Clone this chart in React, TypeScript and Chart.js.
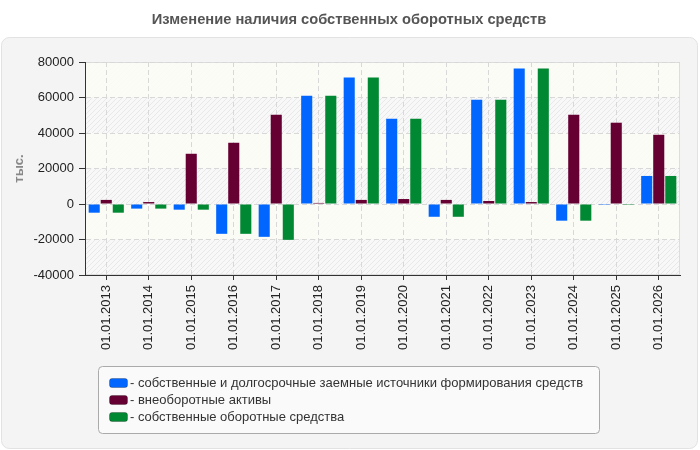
import React, { useEffect, useRef } from 'react';
import { Chart, registerables } from 'chart.js';

Chart.register(...registerables);

const FONT = '"Liberation Sans", Arial, sans-serif';

const titleText = 'Изменение наличия собственных оборотных средств';
const yAxisTitle = 'тыс.';

const categories = [
  '01.01.2013', '01.01.2014', '01.01.2015', '01.01.2016', '01.01.2017',
  '01.01.2018', '01.01.2019', '01.01.2020', '01.01.2021', '01.01.2022',
  '01.01.2023', '01.01.2024', '01.01.2025', '01.01.2026',
];

const seriesNames = [
  'собственные и долгосрочные заемные источники формирования средств',
  'внеоборотные активы',
  'собственные оборотные средства',
];

const sourcesValues = [-4900, -2600, -3200, -16800, -18500, 61000, 71200, 48000, -7200, 58800, 76300, -9400, -500, 15800];
const nonCurrentValues = [2300, 1100, 28300, 34500, 50300, 600, 2300, 2800, 2300, 1700, 1100, 50300, 45800, 39000];
const workingValues = [-4900, -2600, -3200, -16800, -20200, 61000, 71200, 48000, -7200, 58800, 76300, -9400, -500, 15800];

const seriesColors = ['#0066ff', '#660033', '#008833'];

const yMin = -40000;
const yMax = 80000;
const yStep = 20000;

function roundRect(ctx: CanvasRenderingContext2D, x: number, y: number, w: number, h: number, r: number) {
  ctx.beginPath();
  ctx.moveTo(x + r, y);
  ctx.lineTo(x + w - r, y);
  ctx.arcTo(x + w, y, x + w, y + r, r);
  ctx.lineTo(x + w, y + h - r);
  ctx.arcTo(x + w, y + h, x + w - r, y + h, r);
  ctx.lineTo(x + r, y + h);
  ctx.arcTo(x, y + h, x, y + h - r, r);
  ctx.lineTo(x, y + r);
  ctx.arcTo(x, y, x + r, y, r);
  ctx.closePath();
}

export default function App() {
  const ref = useRef<HTMLCanvasElement>(null);

  useEffect(() => {
    document.body.style.margin = '0';
    const canvas = ref.current!;

    // hatch pattern
    const pc = document.createElement('canvas');
    pc.width = 5;
    pc.height = 5;
    const pctx = pc.getContext('2d')!;
    pctx.fillStyle = '#f8f8f8';
    pctx.fillRect(0, 0, 5, 5);
    pctx.strokeStyle = '#e8e8e8';
    pctx.lineWidth = 1;
    pctx.beginPath();
    pctx.moveTo(0, 5); pctx.lineTo(5, 0);
    pctx.moveTo(-1, 1); pctx.lineTo(1, -1);
    pctx.moveTo(4, 6); pctx.lineTo(6, 4);
    pctx.stroke();

    const bgPlugin = {
      id: 'bgPlugin',
      beforeDraw(chart: any) {
        const ctx = chart.ctx as CanvasRenderingContext2D;
        ctx.save();
        ctx.fillStyle = '#ffffff';
        ctx.fillRect(0, 0, 700, 450);
        roundRect(ctx, 1.5, 37.5, 696, 411, 8);
        ctx.fillStyle = '#f4f4f4';
        ctx.fill();
        ctx.strokeStyle = '#e2e2e2';
        ctx.lineWidth = 1;
        ctx.stroke();

        ctx.fillStyle = '#555555';
        ctx.font = 'bold 14.7px ' + FONT;
        ctx.textAlign = 'center';
        ctx.textBaseline = 'middle';
        ctx.fillText(titleText, 349, 20);

        const a = chart.chartArea;
        const pattern = ctx.createPattern(pc, 'repeat')!;
        ctx.fillStyle = pattern;
        ctx.fillRect(a.left, a.top, a.right - a.left, a.bottom - a.top);
        const ys = chart.scales.y;
        let idx = 0;
        for (let v = yMax; v > yMin; v -= yStep) {
          if (idx % 2 === 0) {
            const y1 = ys.getPixelForValue(v);
            const y2 = ys.getPixelForValue(v - yStep);
            ctx.fillStyle = 'rgba(252,252,246,0.88)';
            ctx.fillRect(a.left, y1, a.right - a.left, y2 - y1);
          }
          idx++;
        }
        ctx.strokeStyle = '#dddddd';
        ctx.strokeRect(a.left + 0.5, a.top + 0.5, a.right - a.left - 1, a.bottom - a.top - 1);
        ctx.restore();
      },
      afterDraw(chart: any) {
        const ctx = chart.ctx as CanvasRenderingContext2D;
        ctx.save();
        roundRect(ctx, 98.5, 366.5, 501, 67, 4);
        ctx.fillStyle = '#fafafa';
        ctx.fill();
        ctx.strokeStyle = '#aaaaaa';
        ctx.lineWidth = 1;
        ctx.stroke();
        const rows = [383, 400, 417];
        seriesNames.forEach((name, i) => {
          const y = rows[i];
          roundRect(ctx, 109.5, y - 4.5, 18, 9, 2.5);
          ctx.fillStyle = seriesColors[i];
          ctx.fill();
          ctx.strokeStyle = 'rgba(0,0,0,0.25)';
          ctx.stroke();
          ctx.fillStyle = '#333333';
          ctx.font = '13px ' + FONT;
          ctx.textAlign = 'left';
          ctx.textBaseline = 'middle';
          ctx.fillText('- ' + name, 130, y + 0.5);
        });
        ctx.restore();
      },
    };

    const seriesData = [sourcesValues, nonCurrentValues, workingValues];

    const chart = new Chart(canvas, {
      type: 'bar',
      data: {
        labels: categories,
        datasets: seriesNames.map((n, i) => ({
          label: n,
          data: seriesData[i],
          backgroundColor: seriesColors[i],
          borderWidth: 0,
          categoryPercentage: 0.85,
          barPercentage: 0.92,
        })),
      },
      options: {
        responsive: false,
        animation: false,
        devicePixelRatio: 1,
        layout: { padding: { left: 0, right: 20, top: 62, bottom: 0 } },
        font: { family: FONT },
        plugins: {
          legend: { display: false },
          title: { display: false },
          tooltip: { enabled: false },
        },
        scales: {
          x: {
            grid: { offset: false, color: '#d8d8d8', tickColor: '#333333', tickLength: 5, lineWidth: 1 },
            border: { display: true, color: '#333333', width: 1, dash: [5, 3] },
            ticks: {
              autoSkip: false,
              maxRotation: 90,
              minRotation: 90,
              color: '#222222',
              padding: 5,
              font: { size: 13, family: FONT },
            },
            afterFit: (s: any) => { s.height = 175; },
          },
          y: {
            min: yMin,
            max: yMax,
            grid: { color: '#d8d8d8', tickColor: '#333333', tickLength: 6, lineWidth: 1 },
            border: { display: true, color: '#333333', width: 1, dash: [5, 3] },
            ticks: {
              stepSize: yStep,
              color: '#222222',
              padding: 5,
              font: { size: 13, family: FONT },
              callback: (v: any) => String(v),
            },
            title: {
              display: true,
              text: yAxisTitle,
              color: '#888888',
              font: { size: 13, weight: 'bold', family: FONT },
              padding: { top: 12, bottom: 0 },
            },
            afterFit: (s: any) => { s.width = 85; },
          },
        },
      },
      plugins: [bgPlugin],
    } as any);

    return () => chart.destroy();
  }, []);

  return (
    <div style={{ width: 700, height: 450, position: 'relative' }}>
      <canvas ref={ref} width={700} height={450} style={{ display: 'block' }} />
    </div>
  );
}
